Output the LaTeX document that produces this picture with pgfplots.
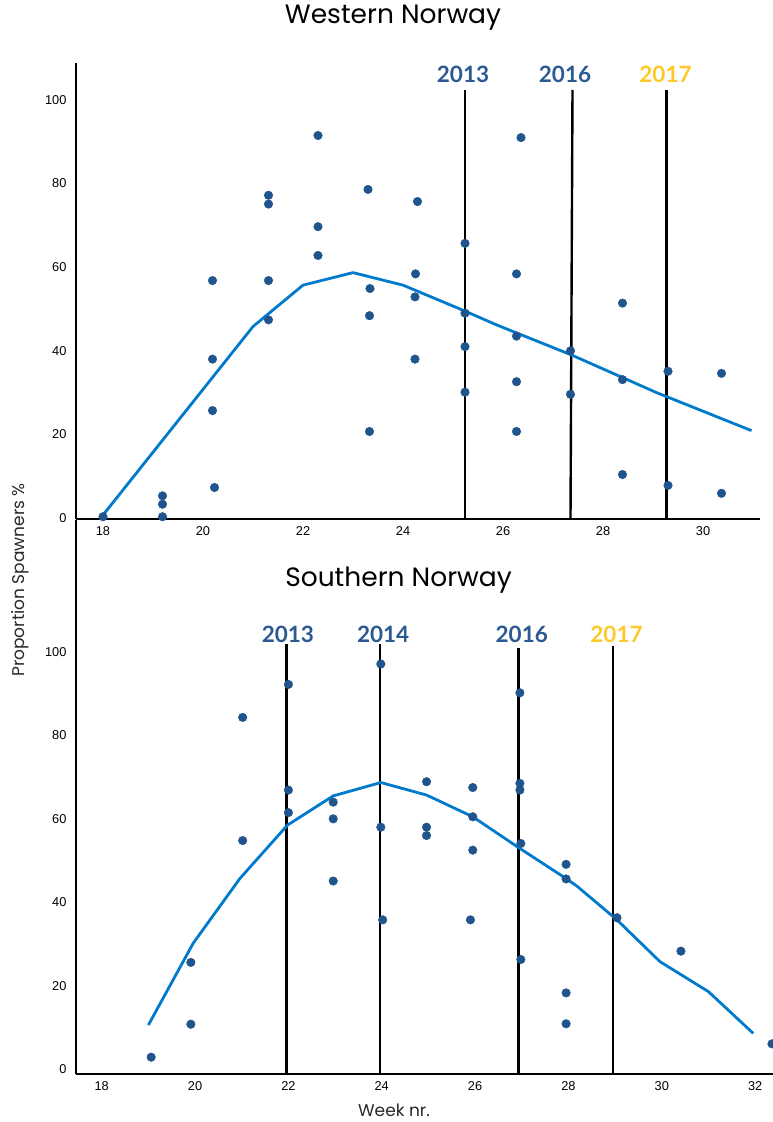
\documentclass[border=0pt]{standalone}
\usepackage{pgfplots}
\pgfplotsset{compat=1.18}
\usepackage{fontspec}
\setmainfont{Liberation Sans}
\newfontfamily\arialf{Liberation Sans}
\newfontfamily\titlef{Poppins}
\newfontfamily\yearf{Lato}
\definecolor{dotblue}{RGB}{31,84,140}
\definecolor{lineblue}{RGB}{0,122,204}
\definecolor{yearblue}{RGB}{42,90,145}
\definecolor{yearyellow}{RGB}{255,200,40}
\definecolor{labgray}{RGB}{40,40,40}

\pgfplotstableread{
x y
18.0 0.3
19.19 5.3
19.19 3.3
19.19 0.3
20.19 56.8
20.19 38.0
20.19 25.7
20.23 7.3
21.31 77.2
21.31 75.1
21.31 56.8
21.31 47.4
22.3 91.5
22.3 69.7
22.3 62.8
23.3 78.6
23.34 54.9
23.33 48.4
23.33 20.7
24.29 75.7
24.25 58.4
24.24 52.9
24.24 38.0
25.24 65.7
25.24 49.0
25.24 41.0
25.24 30.1
26.36 91.0
26.27 58.4
26.27 43.5
26.27 32.6
26.27 20.7
27.35 40.0
27.35 29.6
28.39 51.4
28.39 33.1
28.39 10.4
29.3 35.1
29.3 7.8
30.37 34.6
30.37 5.9
}\westdots

\pgfplotstableread{
x y
18.0 0.7
21.0 45.8
22.0 55.7
23.0 58.7
24.0 55.7
25.24 49.5
25.87 46.2
27.37 39.0
29.07 30.0
30.97 20.9
}\westline

\pgfplotstableread{
x y
19.06 2.9
19.91 25.6
19.91 10.8
21.02 84.3
21.02 54.8
22.0 92.2
22.0 66.9
22.0 61.5
22.96 64.0
22.96 60.0
22.96 45.1
23.98 97.1
23.98 58.0
24.02 35.8
24.96 68.9
24.96 58.0
24.96 56.0
25.95 67.5
25.95 60.5
25.95 52.5
25.90 35.8
26.96 90.2
26.96 68.5
26.96 66.9
26.98 54.1
26.98 26.3
27.95 49.1
27.95 45.6
27.95 18.3
27.95 10.9
29.04 36.3
30.41 28.3
32.36 6.1
}\southdots

\pgfplotstableread{
x y
19.0 10.6
19.96 30.2
20.96 45.7
21.98 58.5
22.96 65.5
23.98 68.7
24.96 65.7
25.95 60.5
26.96 52.9
27.95 45.7
28.18 43.9
29.04 35.8
29.96 25.8
31.0 18.6
31.96 8.6
}\southline

\tikzset{
  yearline/.style={black, line width=2.4pt},
  yearlab/.style={font=\yearf\bfseries\fontsize{22.5}{24}\selectfont},
}
\pgfplotsset{
  myaxis/.style={
    anchor=south west, scale only axis,
    axis x line=bottom, axis y line=left,
    axis line style={-, line width=2.6pt, black},
    major tick length=0pt,
    ytick={0,20,...,100},
    tick label style={font=\arialf\fontsize{12.8}{14}\selectfont, text=black},
    /pgf/number format/assume math mode=true,
    xticklabel style={yshift=-4.5pt},
    yticklabel style={xshift=-6pt},
  },
}

\begin{document}
\begin{tikzpicture}[x=1pt,y=1pt]
\path[use as bounding box] (0,0) rectangle (773,1122);

% Western Norway
\begin{axis}[myaxis, at={(76pt,603pt)}, width=684pt, height=456pt,
  xmin=17.46, xmax=31.14, ymin=-0.24, ymax=108.85,
  xtick={18,20,...,30}]
  \addplot[yearline] coordinates {(25.24,-0.24) (25.24,102.4)};
  \addplot[yearline] coordinates {(27.35,-0.24) (27.39,102.4)};
  \addplot[yearline] coordinates {(29.27,-0.24) (29.27,102.4)};
  \addplot[lineblue, line width=2.8pt, line join=round] table[x=x,y=y] {\westline};
  \addplot[only marks, mark=*, mark size=4.3pt, mark options={fill=dotblue, draw=dotblue}] table[x=x,y=y] {\westdots};
  \node[yearlab, text=yearblue] at (axis cs:25.2,106.2) {2013};
  \node[yearlab, text=yearblue] at (axis cs:27.24,106.2) {2016};
  \node[yearlab, text=yearyellow] at (axis cs:29.25,106.2) {2017};
\end{axis}

% Southern Norway
\begin{axis}[myaxis, at={(76pt,48pt)}, width=697pt, height=554pt,
  xmin=17.449, xmax=32.383, ymin=-1.13, ymax=131.6,
  xtick={18,20,...,32}]
  \addplot[yearline] coordinates {(21.96,-1.13) (21.96,101.9)};
  \addplot[yearline] coordinates {(23.96,-1.13) (23.96,101.9)};
  \addplot[yearline] coordinates {(26.93,-1.13) (26.93,101.0)};
  \addplot[yearline] coordinates {(28.96,-1.13) (28.96,101.4)};
  \addplot[lineblue, line width=2.8pt, line join=round] table[x=x,y=y] {\southline};
  \addplot[only marks, mark=*, mark size=4.3pt, mark options={fill=dotblue, draw=dotblue}] table[x=x,y=y] {\southdots};
  \node[yearlab, text=yearblue] at (axis cs:21.99,104.3) {2013};
  \node[yearlab, text=yearblue] at (axis cs:24.03,104.3) {2014};
  \node[yearlab, text=yearblue] at (axis cs:27.0,104.3) {2016};
  \node[yearlab, text=yearyellow] at (axis cs:29.03,104.3) {2017};
\end{axis}

\node[font=\titlef\fontsize{26.5}{30}\selectfont, text=black] at (393,1104) {Western Norway};
\node[font=\titlef\fontsize{26.5}{30}\selectfont, text=black] at (398.5,541.5) {Southern Norway};
\node[font=\titlef\fontsize{17}{20}\selectfont, text=labgray, rotate=90] at (20,542) {Proportion Spawners \%};
\node[font=\titlef\fontsize{17}{20}\selectfont, text=labgray] at (394,12) {Week nr.};
\end{tikzpicture}
\end{document}
